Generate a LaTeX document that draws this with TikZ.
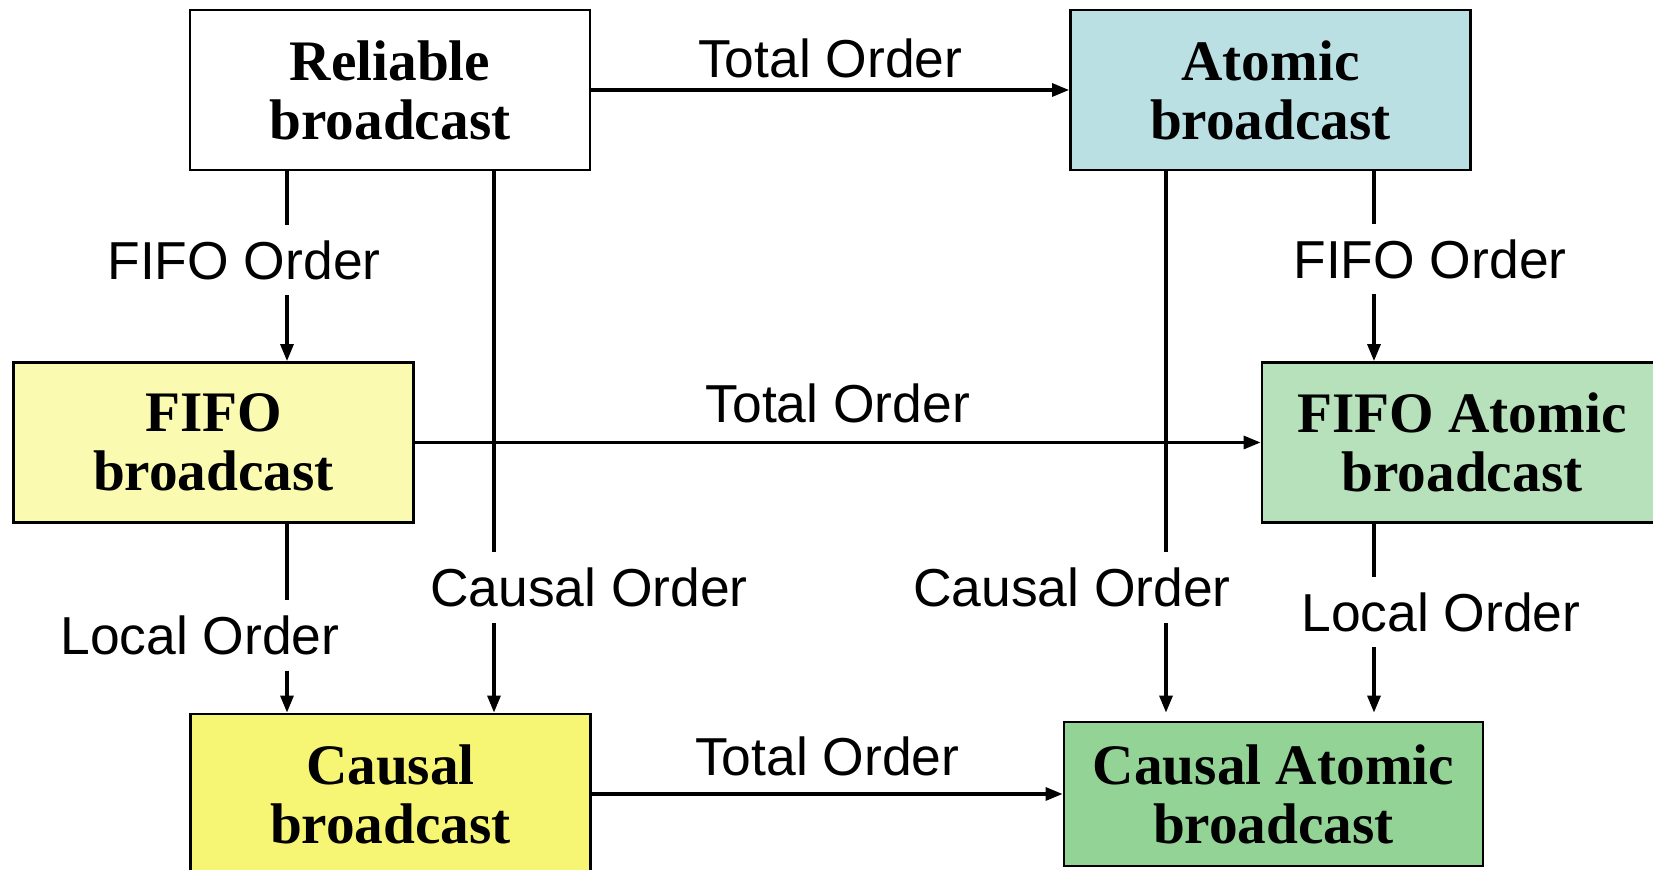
\documentclass[tikz,border=0pt]{standalone}
\usepackage{fontspec}
\setmainfont{Liberation Serif}
\newfontfamily\orderfont{Liberation Sans}
\usepackage{tikz}
\usetikzlibrary{
  arrows.meta,
  positioning
}

\begin{document}
\begin{tikzpicture}[%スタイル設定
        box/.style={
            draw,
            line width=0.8pt,
            minimum width=4cm,
            minimum height=1.6cm,
            align=center,
            inner sep=0pt,
            font=\fontsize{16.3}{16.8}\selectfont\bfseries
          },order/.style={
            font=\orderfont\fontsize{15.2}{15.5}\selectfont,
            text height=0.39cm,
            text depth=0pt,
            inner xsep=0pt,
            inner ysep=0.15cm
          },conn/.style={
            line width=0.9pt,
            -{Triangle[length=1.7mm,width=1.3mm]}
          },leg/.style={
            line width=0.9pt
          }
      ]
      \useasboundingbox (0,0) rectangle (16.53,-8.70);

      % 色の定義
      \definecolor{atomblue}{RGB}{186,224,227}
      \definecolor{fifoyellow}{RGB}{250,250,176}
      \definecolor{fatomgreen}{RGB}{183,225,187}
      \definecolor{causalyellow}{RGB}{247,245,116}
      \definecolor{catomgreen}{RGB}{147,211,150}

      % ブロードキャストの種類
      \node[box] (reliable) at (3.90,-0.90) {Reliable\\broadcast};
      \node[box,fill=atomblue] (atomic) at (12.705,-0.90) {Atomic\\broadcast};
      \node[box,fill=fifoyellow] (fifo) at (2.135,-4.425) {FIFO\\broadcast};
      \node[box,fill=fatomgreen] (fatomic) at (14.62,-4.425) {FIFO Atomic\\broadcast};
      \node[box,fill=causalyellow] (causal) at (3.905,-7.94) {Causal\\broadcast};
      \node[box,fill=catomgreen,minimum width=4.19cm,minimum height=1.44cm]
        (catomic) at (12.735,-7.94) {Causal Atomic\\broadcast};

      % 縦の矢印のラベル
      \node[order] (fifo_l) at (2.44,-2.60) {FIFO Order};
      \node[order] (fifo_r) at (14.30,-2.59) {FIFO Order};
      \node[order] (local_l) at (2.00,-6.355) {Local Order};
      \node[order] (local_r) at (14.41,-6.12) {Local Order};
      \node[order] (causal_l) at (5.89,-5.875) {Causal Order};
      \node[order] (causal_r) at (10.72,-5.875) {Causal Order};

      % 横の矢印 (Total Order)
      \draw[conn] (reliable.east) -- (atomic.west)
        node[order,midway,above=-0.04cm] {Total Order};
      \draw[conn] (fifo.east) -- (fatomic.west)
        node[order,midway,above=0.03cm] {Total Order};
      \draw[conn] (causal.east) -- (catomic.west)
        node[order,midway,above=0.02cm] {Total Order};

      % 縦の矢印 (ラベルで途切れる)
      \draw[leg] ([xshift=-1.03cm]reliable.south) -- ([xshift=-1.03cm]reliable.south |- fifo_l.north);
      \draw[conn] ([xshift=-1.03cm]reliable.south |- fifo_l.south) -- ([xshift=-1.03cm]reliable.south |- fifo.north);
      \draw[leg] ([xshift=1.04cm]reliable.south) -- ([xshift=1.04cm]reliable.south |- causal_l.north);
      \draw[conn] ([xshift=1.04cm]reliable.south |- causal_l.south) -- ([xshift=1.04cm]reliable.south |- causal.north);

      \draw[leg] ([xshift=1.035cm]atomic.south) -- ([xshift=1.035cm]atomic.south |- fifo_r.north);
      \draw[conn] ([xshift=1.035cm]atomic.south |- fifo_r.south) -- ([xshift=1.035cm]atomic.south |- fatomic.north);
      \draw[leg] ([xshift=-1.045cm]atomic.south) -- ([xshift=-1.045cm]atomic.south |- causal_r.north);
      \draw[conn,shorten >=0.08cm] ([xshift=-1.045cm]atomic.south |- causal_r.south) -- ([xshift=-1.045cm]atomic.south |- catomic.north);

      \draw[leg] ([xshift=0.735cm]fifo.south) -- ([xshift=0.735cm]fifo.south |- local_l.north);
      \draw[conn] ([xshift=0.735cm]fifo.south |- local_l.south) -- ([xshift=0.735cm]fifo.south |- causal.north);
      \draw[leg] ([xshift=-0.88cm]fatomic.south) -- ([xshift=-0.88cm]fatomic.south |- local_r.north);
      \draw[conn,shorten >=0.08cm] ([xshift=-0.88cm]fatomic.south |- local_r.south) -- ([xshift=-0.88cm]fatomic.south |- catomic.north);

    \end{tikzpicture}
\end{document}
